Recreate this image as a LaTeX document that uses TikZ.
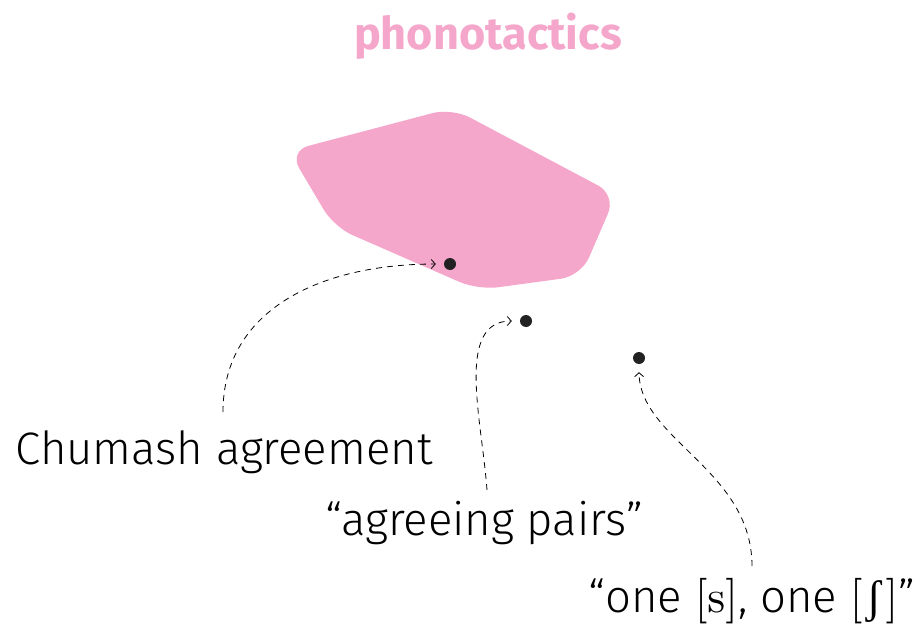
\documentclass[tikz,border=0pt]{standalone}
\usepackage[no-math]{fontspec}
\setmainfont{Fira Sans Light}[BoldFont={Fira Sans Bold}]
\newfontfamily\ipafont{Liberation Serif}
\usetikzlibrary{arrows.meta}
\definecolor{blobpink}{RGB}{244,166,203}
\definecolor{dotgray}{RGB}{34,34,34}
\newcommand{\bigmath}[1]{\scalebox{4.55}{\fontsize{10}{12}\selectfont$#1$}}
\tikzset{
  dotnode/.style={circle,fill=dotgray,inner sep=0pt,minimum size=12pt},
  lab/.style={font=\fontsize{45.5}{54}\selectfont,inner sep=2pt},
  conn/.style={draw=black,line width=0.8pt,dash pattern=on 6pt off 5pt,-{Straight Barb[length=4pt,width=9pt]}},
}
\begin{document}
\begin{tikzpicture}[x=1pt,y=-1pt]
\useasboundingbox (0,0) rectangle (919,629);
\node[font=\fontsize{45}{50}\selectfont\bfseries,text=blobpink] (title) at (488,36) {phonotactics};
\fill[blobpink,rounded corners=20pt] (289,151) -- (452,108) -- (616,195) -- (581,276) -- (478,290) -- (334,227) -- cycle;
\node[dotnode] (d1) at (450,264) {};
\node[dotnode] (d2) at (526,321) {};
\node[dotnode] (d3) at (639,358) {};
\node[lab] (l1) at (224,452) {Chumash agreement};
\node[lab] (l2) at (484,523) {“agreeing pairs”};
\node[lab] (l3) at (752,601) {“one \bigmath{[\mathrm{s}]}, one \bigmath{[}\hspace{4pt}{\ipafont\fontsize{46}{54}\selectfont ʃ}\hspace{4pt}\bigmath{]}”};
\coordinate (s1) at (223,412);
\coordinate (s2) at (487,490);
\coordinate (s3) at (752,566);
\draw[conn] (s1) .. controls (223,310) and (320,264) .. ([xshift=-8pt]d1.west);
\draw[conn] (s2) .. controls (482,420) and (455,321) .. ([xshift=-8pt]d2.west);
\draw[conn] (s3) .. controls (752,470) and (640,440) .. ([yshift=-8pt]d3.south);
\end{tikzpicture}
\end{document}
